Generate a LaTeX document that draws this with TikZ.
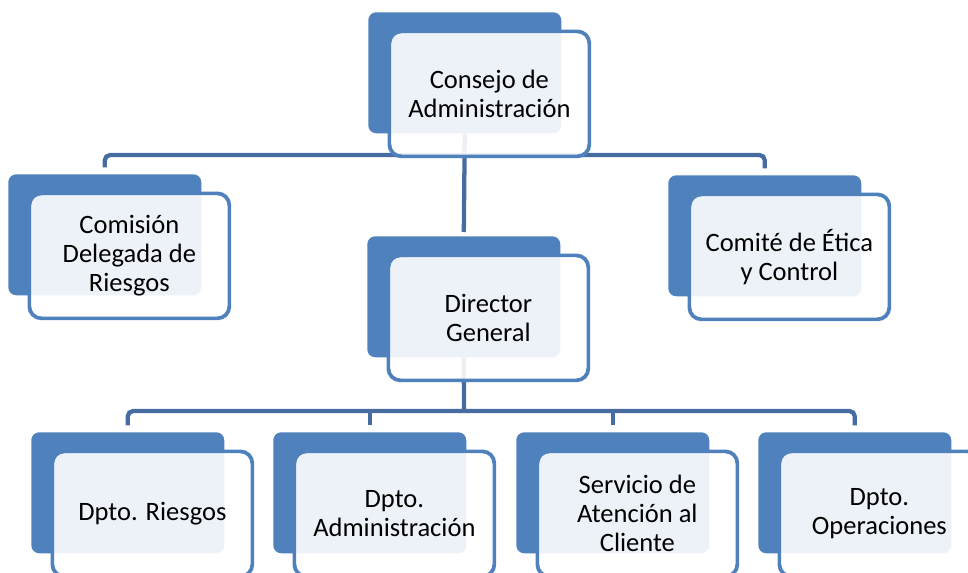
\documentclass[tikz,border=0pt]{standalone}
\usepackage{fontspec}
\setmainfont{Carlito}
\usetikzlibrary{backgrounds}
\definecolor{boxblue}{RGB}{79,129,189}
\definecolor{lineblue}{RGB}{70,108,162}
\tikzset{
  backbox/.style={fill=boxblue, draw=none, rounded corners=6pt, anchor=north west,
    minimum width=144.75pt, minimum height=90.75pt, inner sep=0pt},
  frontbox/.style={draw=boxblue, line width=2.8pt, fill=white, fill opacity=0.9, text opacity=1,
    rounded corners=9pt, anchor=north west, minimum width=150pt, minimum height=93.75pt,
    inner sep=0pt, align=center, font=\fontsize{19.9}{21.75}\selectfont, text=black},
  conn/.style={draw=lineblue, line width=3.2pt},
}
\newcommand\orgbox[4]{%
  \node[backbox] (#1-back) at (#2,#3) {};
  \node[frontbox] (#1) at ([shift={(19.5,17.5)}]#1-back.north west) {#4};
}
\begin{document}
\begin{tikzpicture}[x=0.75pt,y=-0.75pt]
\useasboundingbox (0,0) rectangle (968,572);
\clip (0,0) rectangle (968,572);
\orgbox{cons}{368}{12}{Consejo de\\Administración}
\orgbox{comision}{8}{174}{Comisión\\Delegada de\\Riesgos}
\orgbox{comite}{668}{175}{Comité de Ética\\y Control}
\orgbox{dir}{367}{236}{Director\\General}
\orgbox{d1}{31}{432}{Dpto. Riesgos}
\orgbox{d2}{273}{432}{Dpto.\\Administración}
\orgbox{d3}{516}{432}{Servicio de\\Atención al\\Cliente}
\orgbox{d4}{758}{432}{Dpto.\\Operaciones}
\coordinate (bus1) at (464,155);
\coordinate (bus2) at (464,411);
\begin{scope}[on background layer]
  \draw[conn, rounded corners=4pt, shorten <=5pt, shorten >=5pt]
    (comision-back.north) |- (bus1) -| (comite-back.north);
  \draw[conn, shorten >=3pt] (cons-back.south) -- (dir-back.north);
  \draw[conn, rounded corners=4pt, shorten <=5pt, shorten >=5pt]
    (d1-back.north) |- (bus2) -| (d4-back.north);
  \draw[conn, shorten <=5pt] (d2-back.north) -- (d2-back.north |- bus2);
  \draw[conn, shorten <=5pt] (d3-back.north) -- (d3-back.north |- bus2);
  \draw[conn] (dir-back.south) -- (bus2);
\end{scope}
\end{tikzpicture}
\end{document}
